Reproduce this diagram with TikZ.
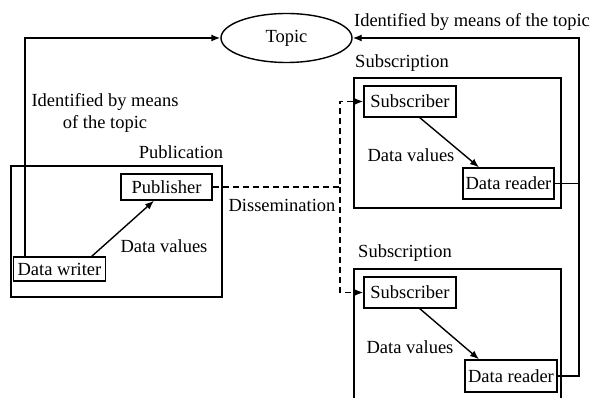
\documentclass[tikz,border=0pt]{standalone}
\usepackage{fontspec}
\setmainfont{Liberation Serif}
\usetikzlibrary{arrows.meta,shapes.geometric}
\begin{document}
\begin{tikzpicture}[x=1pt,y=-1pt,
  every node/.style={font=\fontsize{18.5}{22}\selectfont},
  box/.style={draw,line width=1.4pt,inner sep=0pt,anchor=center},
  frame/.style={draw,line width=1.4pt,inner sep=0pt},
  lbl/.style={inner sep=0pt,anchor=center},
  con/.style={line width=1.4pt},
  arr/.style={line width=1.4pt,-{Latex[length=9pt,width=7pt]}},
  darr/.style={line width=1.4pt,dash pattern=on 6pt off 4pt,-{Latex[length=9pt,width=7pt]}}]
\useasboundingbox (0,0) rectangle (592,398);
\clip (0,0) rectangle (592,398);
% topic
\node[draw,ellipse,line width=1.4pt,minimum width=131pt,minimum height=49pt,inner sep=0pt] (topic) at (286.5,38) {Topic};
% publication
\node[frame,minimum width=211pt,minimum height=131pt] (pubframe) at (116.5,231.5) {};
\node[box,minimum width=91pt,minimum height=26pt] (pub) at (166.5,187) {Publisher};
\node[box,minimum width=92pt,minimum height=24pt] (dw) at (59.5,269) {Data writer};
% subscription 1
\node[frame,minimum width=207pt,minimum height=130pt] (sub1frame) at (457.5,143) {};
\node[box,minimum width=92pt,minimum height=31pt] (s1) at (410,101.5) {Subscriber};
\node[box,minimum width=91pt,minimum height=31pt] (r1) at (508.5,183.5) {Data reader};
% subscription 2
\node[frame,minimum width=207pt,minimum height=150pt] (sub2frame) at (457.5,344) {};
\node[box,minimum width=92pt,minimum height=31pt] (s2) at (410,292.5) {Subscriber};
\node[box,minimum width=92pt,minimum height=32pt] (r2) at (511,376) {Data reader};
% labels
\node[lbl] (ltr) at (472,22) {Identified by means of the topic};
\node[lbl,align=center] (ltl) at (105,113) {Identified by means\\of the topic};
\node[lbl] (lpub) at (181,152) {Publication};
\node[lbl] (ldis) at (282,205) {Dissemination};
\node[lbl] (ldv0) at (164,246) {Data values};
\node[lbl] (ls1) at (402,63) {Subscription};
\node[lbl] (ldv1) at (411,155) {Data values};
\node[lbl] (ls2) at (405,253) {Subscription};
\node[lbl] (ldv2) at (410,347) {Data values};
% connectors
\coordinate (cl) at (25,38);
\coordinate (cr) at (579,38);
\coordinate (cd) at (340,187);
\draw[arr] (dw.north -| cl) -- (cl) -- (topic.west);
\draw[arr] (r2.east) -- (r2.east -| cr) -- (cr) -- (topic.east);
\draw[con] (r1.east) -- (r1.east -| cr);
\draw[arr] (91,257) -- (pub.south -| 154,0);
\draw[arr] (419,117) -- (r1.north -| 479,0);
\draw[arr] (419,308) -- (r2.north -| 479,0);
\draw[darr] (pub.east) -- (cd) |- (s1.west);
\draw[darr] (cd) |- (s2.west);
\end{tikzpicture}
\end{document}
